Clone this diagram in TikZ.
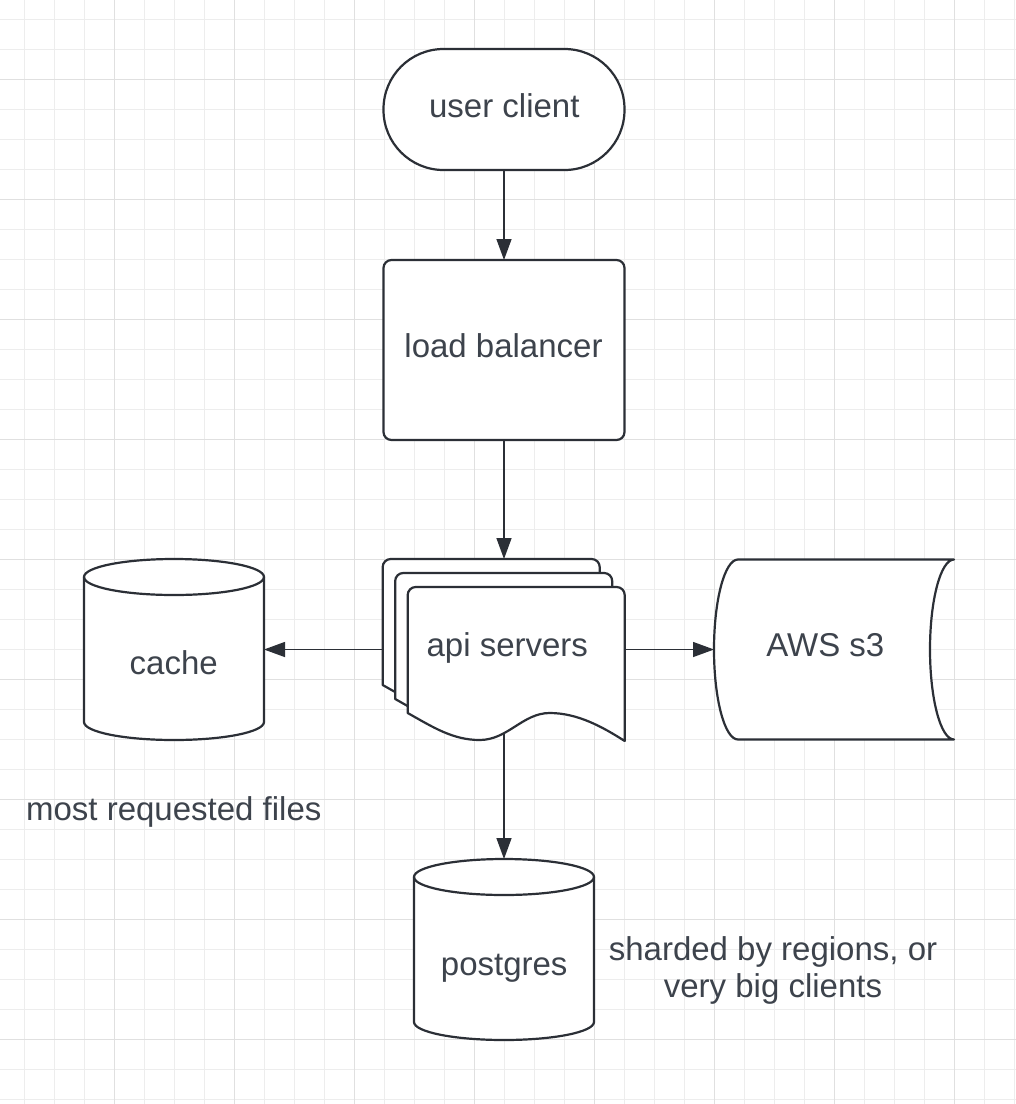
\documentclass[tikz,border=0pt]{standalone}
\usepackage{fontspec}
\setmainfont{Liberation Sans}
\usetikzlibrary{arrows.meta}
\definecolor{ink}{HTML}{2B2F36}
\definecolor{txtc}{HTML}{3D434C}
\definecolor{gminor}{HTML}{EDEDED}
\definecolor{gmajor}{HTML}{E0E0E0}
\pgfdeclarelayer{gridlayer}
\pgfdeclarelayer{connlayer}
\pgfsetlayers{gridlayer,connlayer,main}
\begin{document}
\begin{tikzpicture}[x=1pt,y=-1pt,
  box/.style 2 args={inner sep=0pt,outer sep=0pt,minimum width=#1pt,minimum height=#2pt},
  txt/.style={font=\fontsize{33}{40}\selectfont,text=txtc,inner sep=0pt,anchor=base},
  conn/.style={draw=ink,line width=1.4pt,-{Triangle[length=21pt,width=15pt]}},
  shp/.style={draw=ink,fill=white,line width=2.2pt,line join=round},
  shpline/.style={draw=ink,line width=2.2pt}]
\useasboundingbox (0,0) rectangle (1016,1104);
\begin{pgfonlayer}{gridlayer}
  \fill[white] (0,0) rectangle (1016,1104);
  \foreach \k in {0,...,33} \draw[gminor,line width=1pt] ({24+30*\k},0) -- ({24+30*\k},1104);
  \foreach \k in {0,...,36} \draw[gminor,line width=1pt] (0,{19.3+30*\k}) -- (1016,{19.3+30*\k});
  \foreach \k in {0,...,7} \draw[gmajor,line width=1pt] ({114+120*\k},0) -- ({114+120*\k},1104);
  \foreach \k in {0,...,8} \draw[gmajor,line width=1pt] (0,{79.3+120*\k}) -- (1016,{79.3+120*\k});
\end{pgfonlayer}

% anchor nodes
\node[box={241}{121},shp,rounded corners=60pt] (uc) at (504,109.5) {};
\node[box={241}{180},shp,rounded corners=8pt] (lb) at (504,350) {};
\node[box={242}{181}] (api) at (504,649.5) {};
\node[box={180}{181}] (cache) at (174,649.5) {};
\node[box={240}{180}] (aws) at (834,649.5) {};
\node[box={180}{181}] (pg) at (504,949.5) {};

% connectors
\begin{pgfonlayer}{connlayer}
  \draw[conn] (uc.south) -- (lb.north);
  \draw[conn] (lb.south) -- (api.north);
  \draw[conn] (api.center) -- (cache.east);
  \draw[conn] (api.center) -- (aws.west);
  \draw[conn] (api.center) -- (pg.north);
\end{pgfonlayer}

% api servers: stacked documents
\foreach \dx/\dy in {0/0,12.5/14,25/28} {
  \begin{scope}[shift={(382.7+\dx,559+\dy)}]
    \draw[shp] (0,126) -- (0,8) .. controls (0,3.6) and (3.6,0) .. (8,0) -- (209,0)
      .. controls (213.4,0) and (217,3.6) .. (217,8) -- (217,154)
      .. controls (195,140) and (170,126) .. (142,126)
      .. controls (115,126) and (100,153) .. (72,153)
      .. controls (45,153) and (25,140) .. (0,126) -- cycle;
  \end{scope}
}

% cylinders
\foreach \n in {cache,pg} {
  \begin{scope}[shift={(\n.north west)}]
    \draw[shp] (0,18) -- (0,163) .. controls (0,173) and (40.3,181) .. (90,181)
      .. controls (139.7,181) and (180,173) .. (180,163) -- (180,18)
      .. controls (180,8) and (139.7,0) .. (90,0)
      .. controls (40.3,0) and (0,8) .. (0,18) -- cycle;
    \draw[shpline] (0,18) .. controls (0,28) and (40.3,36) .. (90,36)
      .. controls (139.7,36) and (180,28) .. (180,18);
  \end{scope}
}

% AWS stored data shape
\begin{scope}[shift={(aws.north west)}]
  \draw[shp] (24,0) -- (240,0) .. controls (226.75,0) and (216,40.3) .. (216,90)
    .. controls (216,139.7) and (226.75,180) .. (240,180) -- (24,180)
    .. controls (10.75,180) and (0,139.7) .. (0,90)
    .. controls (0,40.3) and (10.75,0) .. (24,0) -- cycle;
\end{scope}

% texts
\node[txt] (uct) at (504.3,117.3) {user client};
\node[txt] (lbt) at (503.5,357.7) {load balancer};
\node[txt] (apit) at (507.3,656) {api servers};
\node[txt] (cachet) at (173.7,674) {cache};
\node[txt] (awst) at (825.3,656) {AWS s3};
\node[txt] (pgt) at (504.2,975) {postgres};
\node[txt] (mrf) at (173.8,820) {most requested files};
\node[txt] (sh1) at (773,960) {sharded by regions, or};
\node[txt] (sh2) at (773,997.5) {very big clients};
\end{tikzpicture}
\end{document}
